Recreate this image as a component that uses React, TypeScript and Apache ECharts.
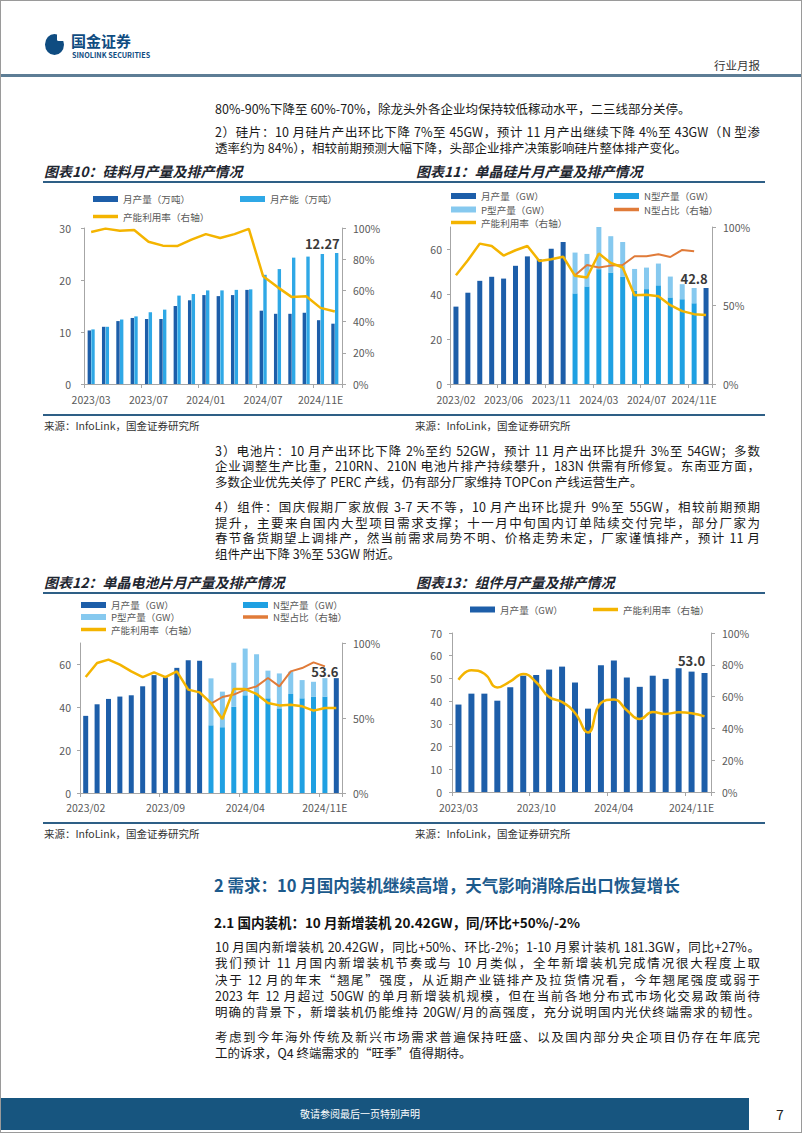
import React, { useEffect, useRef } from "react";
import * as echarts from "echarts";

// ---------- DATA ----------
// 图表10 硅料
const siliconMonths = ["2023/03","2023/04","2023/05","2023/06","2023/07","2023/08","2023/09","2023/10","2024/01","2024/02","2024/03","2024/04","2024/07","2024/08","2024/09","2024/10","2024/11E","2024/12E"];
const siliconOutput = [10.3, 11.0, 12.1, 12.7, 12.5, 12.5, 15.0, 16.1, 17.1, 16.9, 17.1, 18.1, 14.1, 13.5, 13.5, 13.7, 12.27, 11.6];
const siliconCapacity = [10.5, 11.0, 12.4, 13.0, 13.8, 14.3, 17.0, 17.3, 18.0, 18.0, 18.1, 18.2, 21.0, 22.1, 24.3, 24.5, 25.0, 25.2];
const siliconUtil = [97.4, 99.6, 98.3, 98.7, 91.2, 88.7, 88.4, 92.5, 96.1, 93.6, 96.1, 99.4, 69.0, 62.1, 55.7, 56.3, 48.8, 46.5];
const SILICON_LABEL_AT = 16;

// 图表11 单晶硅片
const waferMonths = ["2023/02","2023/03","2023/04","2023/05","2023/06","2023/07","2023/08","2023/09","2023/11","2023/12","2024/01","2024/02","2024/03","2024/04","2024/05","2024/06","2024/07","2024/08","2024/09","2024/10","2024/11E","2024/12E"];
const waferOutput = [34.5, 40.7, 46.0, 47.8, 47.0, 52.7, 56.9, 55.6, 60.3, 63.3, null, null, null, null, null, null, null, null, null, null, null, 42.8];
const waferN = [null, null, null, null, null, null, null, null, null, null, 40.4, 43.5, 51.2, 49.7, 47.9, 41.6, 42.3, 44.0, 38.6, 37.8, 36.0, null];
const waferP = [null, null, null, null, null, null, null, null, null, null, 18.2, 14.5, 18.9, 16.2, 15.4, 9.7, 9.6, 9.7, 9.3, 6.7, 6.8, null];
const waferNShare = [null, null, null, null, null, null, null, null, null, null, 69.3, 75.8, 74.2, 75.4, 75.8, 81.4, 81.4, 82.6, 80.9, 85.4, 84.5, null];
const waferUtil = [69.3, 78.8, 89.4, 87.9, 81.8, 85.2, 87.9, 78.4, 79.4, 81.1, 68.9, 67.8, 83.1, 77.1, 74.2, 56.6, 56.8, 55.9, 50.2, 46.4, 44.5, 43.9];
const WAFER_LABEL_AT = 20;

// 图表12 单晶电池片
const cellMonths = ["2023/02","2023/03","2023/04","2023/05","2023/06","2023/07","2023/08","2023/09","2023/10","2023/11","2023/12","2024/01","2024/02","2024/03","2024/04","2024/05","2024/06","2024/07","2024/08","2024/09","2024/10","2024/11E","2024/12E"];
const cellOutput = [36.0, 41.4, 43.9, 45.0, 45.6, 49.8, 55.0, 54.0, 58.4, 62.0, 61.7, null, null, null, null, null, null, null, null, null, null, null, 53.6];
const cellN = [null, null, null, null, null, null, null, null, null, null, null, 31.6, 30.7, 40.2, 45.6, 46.5, 44.2, 39.5, 46.2, 44.2, 45.0, 45.0, null];
const cellP = [null, null, null, null, null, null, null, null, null, null, null, 21.9, 16.6, 20.6, 21.8, 18.3, 12.9, 16.3, 10.4, 8.5, 6.9, 8.6, null];
const cellNShare = [null, null, null, null, null, null, null, null, null, null, null, 59.6, 64.0, 65.6, 68.9, 71.1, 76.7, 71.1, 81.1, 83.3, 87.1, 84.4, null];
const cellUtil = [77.3, 86.7, 88.9, 85.6, 81.1, 77.3, 80.4, 77.3, 81.1, 68.9, 67.1, 60.0, 49.3, 69.3, 69.3, 66.0, 60.0, 58.4, 58.9, 57.8, 54.9, 56.7, 56.7];
const CELL_LABEL_AT = 21;

// 图表13 组件
const moduleMonths = ["2023/03","2023/04","2023/05","2023/06","2023/07","2023/08","2023/10","2023/11","2023/12","2024/01","2024/02","2024/03","2024/04","2024/05","2024/06","2024/07","2024/08","2024/09","2024/11E","2024/12E"];
const moduleOutput = [38.5, 43.3, 43.3, 40.2, 46.1, 51.2, 51.5, 53.9, 55.2, 48.2, 36.7, 55.8, 57.9, 50.4, 46.3, 51.2, 49.8, 54.5, 53.0, 52.4];
const moduleUtil = [70.6, 76.5, 74.4, 65.8, 69.6, 74.2, 69.0, 59.7, 56.6, 49.7, 37.5, 56.0, 58.1, 51.4, 45.9, 50.3, 49.1, 50.1, 49.5, 47.6];
const MODULE_LABEL_AT = 18;

// ---------- STYLE ----------
const FONT = '"Noto Sans CJK SC","Noto Sans",sans-serif';
const AXIS = "#a6a6a6";
const LABEL = "#595959";
const DARK = "#1d5ea9";
const LIGHT = "#2fa8e6";
const NBLUE = "#1fa0e2";
const PBLUE = "#86c9ef";
const YELLOW = "#f4b400";
const ORANGE = "#e07b39";

function catAxis(gi: number, data: string[], step: number, margin: number) {
  return {
    type: "category", gridIndex: gi, data, boundaryGap: true,
    axisLine: { show: true, lineStyle: { color: AXIS } },
    axisTick: { show: true, interval: step - 1, length: 4, lineStyle: { color: AXIS } },
    axisLabel: { interval: step - 1, fontSize: 10.5, color: LABEL, margin, fontFamily: FONT, hideOverlap: false },
    splitLine: { show: false },
  };
}
function leftAxis(gi: number, max: number, interval: number, margin: number) {
  return {
    type: "value", gridIndex: gi, position: "left", min: 0, max, interval,
    axisLine: { show: true, lineStyle: { color: AXIS } },
    axisTick: { show: true, length: 3, lineStyle: { color: AXIS } },
    splitLine: { show: false },
    axisLabel: { fontSize: 10.5, color: LABEL, margin, fontFamily: FONT, showMaxLabel: max % interval === 0 },
  };
}
function rightAxis(gi: number, interval: number, margin: number) {
  return {
    type: "value", gridIndex: gi, position: "right", min: 0, max: 100, interval,
    axisLine: { show: true, lineStyle: { color: AXIS } },
    axisTick: { show: true, length: 4, lineStyle: { color: AXIS } },
    splitLine: { show: false },
    axisLabel: { fontSize: 10.5, color: LABEL, margin, fontFamily: FONT, formatter: "{value}%" },
  };
}
function legendItem(name: string, left: number, cy: number, h: number) {
  return {
    show: true, left, top: cy - 5.5, data: [name], icon: "rect",
    itemWidth: 25, itemHeight: h, itemGap: 0, padding: 0, selectedMode: false,
    textStyle: { fontSize: 9.6, color: LABEL, lineHeight: 11, fontFamily: FONT },
  };
}
const valueLabel = (text: string, distance: number) => ({
  show: true, position: "top", distance, formatter: text,
  fontSize: 13, fontWeight: "bold", color: "#3a3a3a", fontFamily: FONT,
});
function lineSeries(name: string, xi: number, yi: number, data: (number | null)[], color: string, width: number, smooth = false) {
  return {
    type: "line", name, xAxisIndex: xi, yAxisIndex: yi, data, symbol: "none", smooth,
    itemStyle: { color }, lineStyle: { color, width }, z: 5,
  };
}

function buildOption() {
  const siliconCapData = siliconCapacity.map((v, i) =>
    i === SILICON_LABEL_AT ? { value: v, label: valueLabel(siliconOutput[i].toFixed(2), 4) } : v);
  const waferPData = waferP.map((v, i) =>
    i === WAFER_LABEL_AT ? { value: v, label: valueLabel(((waferN[i] as number) + (v as number)).toFixed(1), 3) } : v);
  const cellPData = cellP.map((v, i) =>
    i === CELL_LABEL_AT ? { value: v, label: valueLabel(((cellN[i] as number) + (v as number)).toFixed(1), 0) } : v);
  const moduleData = moduleOutput.map((v, i) =>
    i === MODULE_LABEL_AT ? { value: v, label: valueLabel(v.toFixed(1), 5) } : v);

  return {
    animation: false,
    textStyle: { fontFamily: FONT },
    grid: [
      { left: 84, top: 228, width: 258, height: 156 },
      { left: 450, top: 227, width: 262, height: 157 },
      { left: 80, top: 643, width: 262, height: 150 },
      { left: 452, top: 633, width: 259, height: 159 },
    ],
    xAxis: [
      catAxis(0, siliconMonths, 4, 10),
      catAxis(1, waferMonths, 4, 10),
      catAxis(2, cellMonths, 7, 9),
      catAxis(3, moduleMonths, 6, 10),
    ],
    yAxis: [
      leftAxis(0, 30, 10, 13), rightAxis(0, 20, 11),
      leftAxis(1, 70, 20, 8), rightAxis(1, 50, 11),
      leftAxis(2, 70, 20, 9), rightAxis(2, 50, 11),
      leftAxis(3, 70, 10, 10), rightAxis(3, 20, 11),
    ],
    legend: [
      legendItem("月产量（万吨）", 93, 199, 6),
      legendItem("月产能（万吨）", 240, 199, 6),
      legendItem("产能利用率（右轴）", 93, 216.5, 3.5),

      legendItem("月产量（GW）", 451, 196, 6),
      legendItem("N型产量（GW）", 614, 196, 6),
      legendItem("P型产量（GW）", 451, 209.5, 6),
      legendItem("N型占比（右轴）", 614, 209.5, 3.5),
      legendItem("产能利用率（右轴）", 451, 222.5, 3.5),

      legendItem("月产量（GW）", 81, 605, 6),
      legendItem("N型产量（GW）", 243, 605, 6),
      legendItem("P型产量（GW）", 81, 617, 6),
      legendItem("N型占比（右轴）", 243, 617, 3.5),
      legendItem("产能利用率（右轴）", 81, 629.5, 3.5),

      legendItem("月产量（GW）", 470, 609.5, 6),
      legendItem("产能利用率（右轴）", 593, 609.5, 3.5),
    ],
    series: [
      // 图表10
      { type: "bar", name: "月产量（万吨）", xAxisIndex: 0, yAxisIndex: 0, data: siliconOutput, barWidth: 3.4, barGap: "8%", itemStyle: { color: DARK } },
      { type: "bar", name: "月产能（万吨）", xAxisIndex: 0, yAxisIndex: 0, data: siliconCapData, barWidth: 3.4, barGap: "8%", itemStyle: { color: LIGHT } },
      lineSeries("产能利用率（右轴）", 0, 1, siliconUtil, YELLOW, 2.5),
      // 图表11
      { type: "bar", name: "月产量（GW）", xAxisIndex: 1, yAxisIndex: 2, data: waferOutput, barWidth: 5, barGap: "-100%", itemStyle: { color: DARK } },
      { type: "bar", name: "N型产量（GW）", xAxisIndex: 1, yAxisIndex: 2, stack: "wafer", data: waferN, barWidth: 5, barGap: "-100%", itemStyle: { color: NBLUE } },
      { type: "bar", name: "P型产量（GW）", xAxisIndex: 1, yAxisIndex: 2, stack: "wafer", data: waferPData, barWidth: 5, barGap: "-100%", itemStyle: { color: PBLUE } },
      lineSeries("N型占比（右轴）", 1, 3, waferNShare, ORANGE, 2),
      lineSeries("产能利用率（右轴）", 1, 3, waferUtil, YELLOW, 2.5),
      // 图表12
      { type: "bar", name: "月产量（GW）", xAxisIndex: 2, yAxisIndex: 4, data: cellOutput, barWidth: 5, barGap: "-100%", itemStyle: { color: DARK } },
      { type: "bar", name: "N型产量（GW）", xAxisIndex: 2, yAxisIndex: 4, stack: "cell", data: cellN, barWidth: 5, barGap: "-100%", itemStyle: { color: NBLUE } },
      { type: "bar", name: "P型产量（GW）", xAxisIndex: 2, yAxisIndex: 4, stack: "cell", data: cellPData, barWidth: 5, barGap: "-100%", itemStyle: { color: PBLUE } },
      lineSeries("N型占比（右轴）", 2, 5, cellNShare, ORANGE, 2),
      lineSeries("产能利用率（右轴）", 2, 5, cellUtil, YELLOW, 2.5),
      // 图表13
      { type: "bar", name: "月产量（GW）", xAxisIndex: 3, yAxisIndex: 6, data: moduleData, barWidth: 6, itemStyle: { color: DARK } },
      lineSeries("产能利用率（右轴）", 3, 7, moduleUtil, YELLOW, 2.5, true),
    ],
  };
}

// ---------- PAGE TEXT ----------
type LineProps = { y: number; text: string; justify?: boolean; left?: number; width?: number; size?: number; bold?: boolean; italic?: boolean; color?: string; h?: number };
function TextLine({ y, text, justify, left = 215, width = 545, size = 12.5, bold, italic, color = "#1a1a1a", h = 15 }: LineProps) {
  return (
    <div style={{
      position: "absolute", left, top: y - h / 2, width, height: h, lineHeight: h + "px",
      fontSize: size, fontWeight: bold ? 700 : 400, fontStyle: italic ? "italic" : "normal", color,
      textAlign: justify ? "justify" : "left", textAlignLast: justify ? "justify" : "left",
      fontFamily: FONT, whiteSpace: "nowrap",
    } as React.CSSProperties}>{text}</div>
  );
}
function Rule({ y, left = 43, width = 722, h = 2, color = "#2e5f86" }: { y: number; left?: number; width?: number; h?: number; color?: string }) {
  return <div style={{ position: "absolute", left, top: y - h / 2, width, height: h, background: color }} />;
}

export default function App() {
  const ref = useRef<HTMLDivElement>(null);
  useEffect(() => {
    const chart = echarts.init(ref.current as HTMLDivElement, null, { renderer: "svg" });
    chart.setOption(buildOption() as any);
    return () => chart.dispose();
  }, []);

  return (
    <div style={{ position: "absolute", left: 0, top: 0, width: 802, height: 1133, background: "#fff", overflow: "hidden", fontFamily: FONT }}>
      <div ref={ref} style={{ position: "absolute", left: 0, top: 0, width: 802, height: 1133 }} />

      {/* header */}
      <div style={{ position: "absolute", left: 45, top: 34, width: 19, height: 21, borderRadius: "50%", background: "#0f4c81" }} />
      <div style={{ position: "absolute", left: 57, top: 33, width: 7.5, height: 7.5, borderRadius: 1.5, background: "#fff" }} />
      <TextLine y={41} left={71} width={80} text="国金证券" size={15} bold color="#0f4c81" h={16} />
      <TextLine y={54.5} left={72} width={90} text="SINOLINK SECURITIES" size={7.2} bold color="#0f4c81" h={8} />
      <TextLine y={65} left={714} width={60} text="行业月报" size={11.5} color="#333" h={14} />
      <Rule y={75.5} left={0} width={802} h={2.5} color="#5d7d95" />

      <TextLine y={108.5} text="80%-90%下降至 60%-70%，除龙头外各企业均保持较低稼动水平，二三线部分关停。" />
      <TextLine y={131} justify text="2）硅片：10 月硅片产出环比下降 7%至 45GW，预计 11 月产出继续下降 4%至 43GW（N 型渗" />
      <TextLine y={147} text="透率约为 84%），相较前期预测大幅下降，头部企业排产决策影响硅片整体排产变化。" />

      <TextLine y={171} left={44} width={330} text="图表10：硅料月产量及排产情况" size={14} bold italic color="#1e2630" h={18} />
      <TextLine y={171} left={416} width={330} text="图表11：单晶硅片月产量及排产情况" size={14} bold italic color="#1e2630" h={18} />
      <Rule y={182} />
      <Rule y={415} />
      <TextLine y={425.5} left={44} width={200} text="来源：InfoLink，国金证券研究所" size={10.5} color="#333" h={13} />
      <TextLine y={425.5} left={415} width={200} text="来源：InfoLink，国金证券研究所" size={10.5} color="#333" h={13} />

      <TextLine y={450} justify text="3）电池片：10 月产出环比下降 2%至约 52GW，预计 11 月产出环比提升 3%至 54GW；多数" />
      <TextLine y={465.5} justify text="企业调整生产比重，210RN、210N 电池片排产持续攀升，183N 供需有所修复。东南亚方面，" />
      <TextLine y={481} text="多数企业优先关停了 PERC 产线，仍有部分厂家维持 TOPCon 产线运营生产。" />

      <TextLine y={506.5} justify text="4）组件：国庆假期厂家放假 3-7 天不等，10 月产出环比提升 9%至 55GW，相较前期预期" />
      <TextLine y={522} justify text="提升，主要来自国内大型项目需求支撑；十一月中旬国内订单陆续交付完毕，部分厂家为" />
      <TextLine y={537.5} justify text="春节备货期望上调排产，然当前需求局势不明、价格走势未定，厂家谨慎排产，预计 11 月" />
      <TextLine y={553} text="组件产出下降 3%至 53GW 附近。" />

      <TextLine y={581.5} left={44} width={330} text="图表12：单晶电池片月产量及排产情况" size={14} bold italic color="#1e2630" h={18} />
      <TextLine y={581.5} left={416} width={330} text="图表13：组件月产量及排产情况" size={14} bold italic color="#1e2630" h={18} />
      <Rule y={592.5} />
      <Rule y={823} />
      <TextLine y={833.5} left={44} width={200} text="来源：InfoLink，国金证券研究所" size={10.5} color="#333" h={13} />
      <TextLine y={833.5} left={415} width={200} text="来源：InfoLink，国金证券研究所" size={10.5} color="#333" h={13} />

      <TextLine y={885} left={214} width={560} text="2 需求：10 月国内装机继续高增，天气影响消除后出口恢复增长" size={16.5} bold color="#1c5a8c" h={22} />
      <TextLine y={921.5} left={214} width={500} text="2.1 国内装机：10 月新增装机 20.42GW，同/环比+50%/-2%" size={13.5} bold color="#111" h={18} />

      <TextLine y={946.5} justify text="10 月国内新增装机 20.42GW，同比+50%、环比-2%；1-10 月累计装机 181.3GW，同比+27%。" />
      <TextLine y={962.8} justify text="我们预计 11 月国内新增装机节奏或与 10 月类似，全年新增装机完成情况很大程度上取" />
      <TextLine y={979.1} justify text="决于 12 月的年末“翘尾”强度，从近期产业链排产及拉货情况看，今年翘尾强度或弱于" />
      <TextLine y={995.4} justify text="2023 年 12 月超过 50GW 的单月新增装机规模，但在当前各地分布式市场化交易政策尚待" />
      <TextLine y={1011.7} justify text="明确的背景下，新增装机仍能维持 20GW/月的高强度，充分说明国内光伏终端需求的韧性。" />
      <TextLine y={1036} justify text="考虑到今年海外传统及新兴市场需求普遍保持旺盛、以及国内部分央企项目仍存在年底完" />
      <TextLine y={1052} text="工的诉求，Q4 终端需求的“旺季”值得期待。" />

      {/* footer */}
      <div style={{ position: "absolute", left: 1, top: 1098, width: 748, height: 32, background: "#17557f" }} />
      <TextLine y={1113.5} left={300} width={160} text="敬请参阅最后一页特别声明" size={10} color="#ffffff" h={14} />
      <TextLine y={1113.5} left={776} width={20} text="7" size={14} color="#222" h={18} />

      {/* page frame */}
      <div style={{ position: "absolute", left: 0, top: 0, width: 802, height: 1133, boxSizing: "border-box", border: "1px solid #9a9a9a", pointerEvents: "none" }} />
    </div>
  );
}
